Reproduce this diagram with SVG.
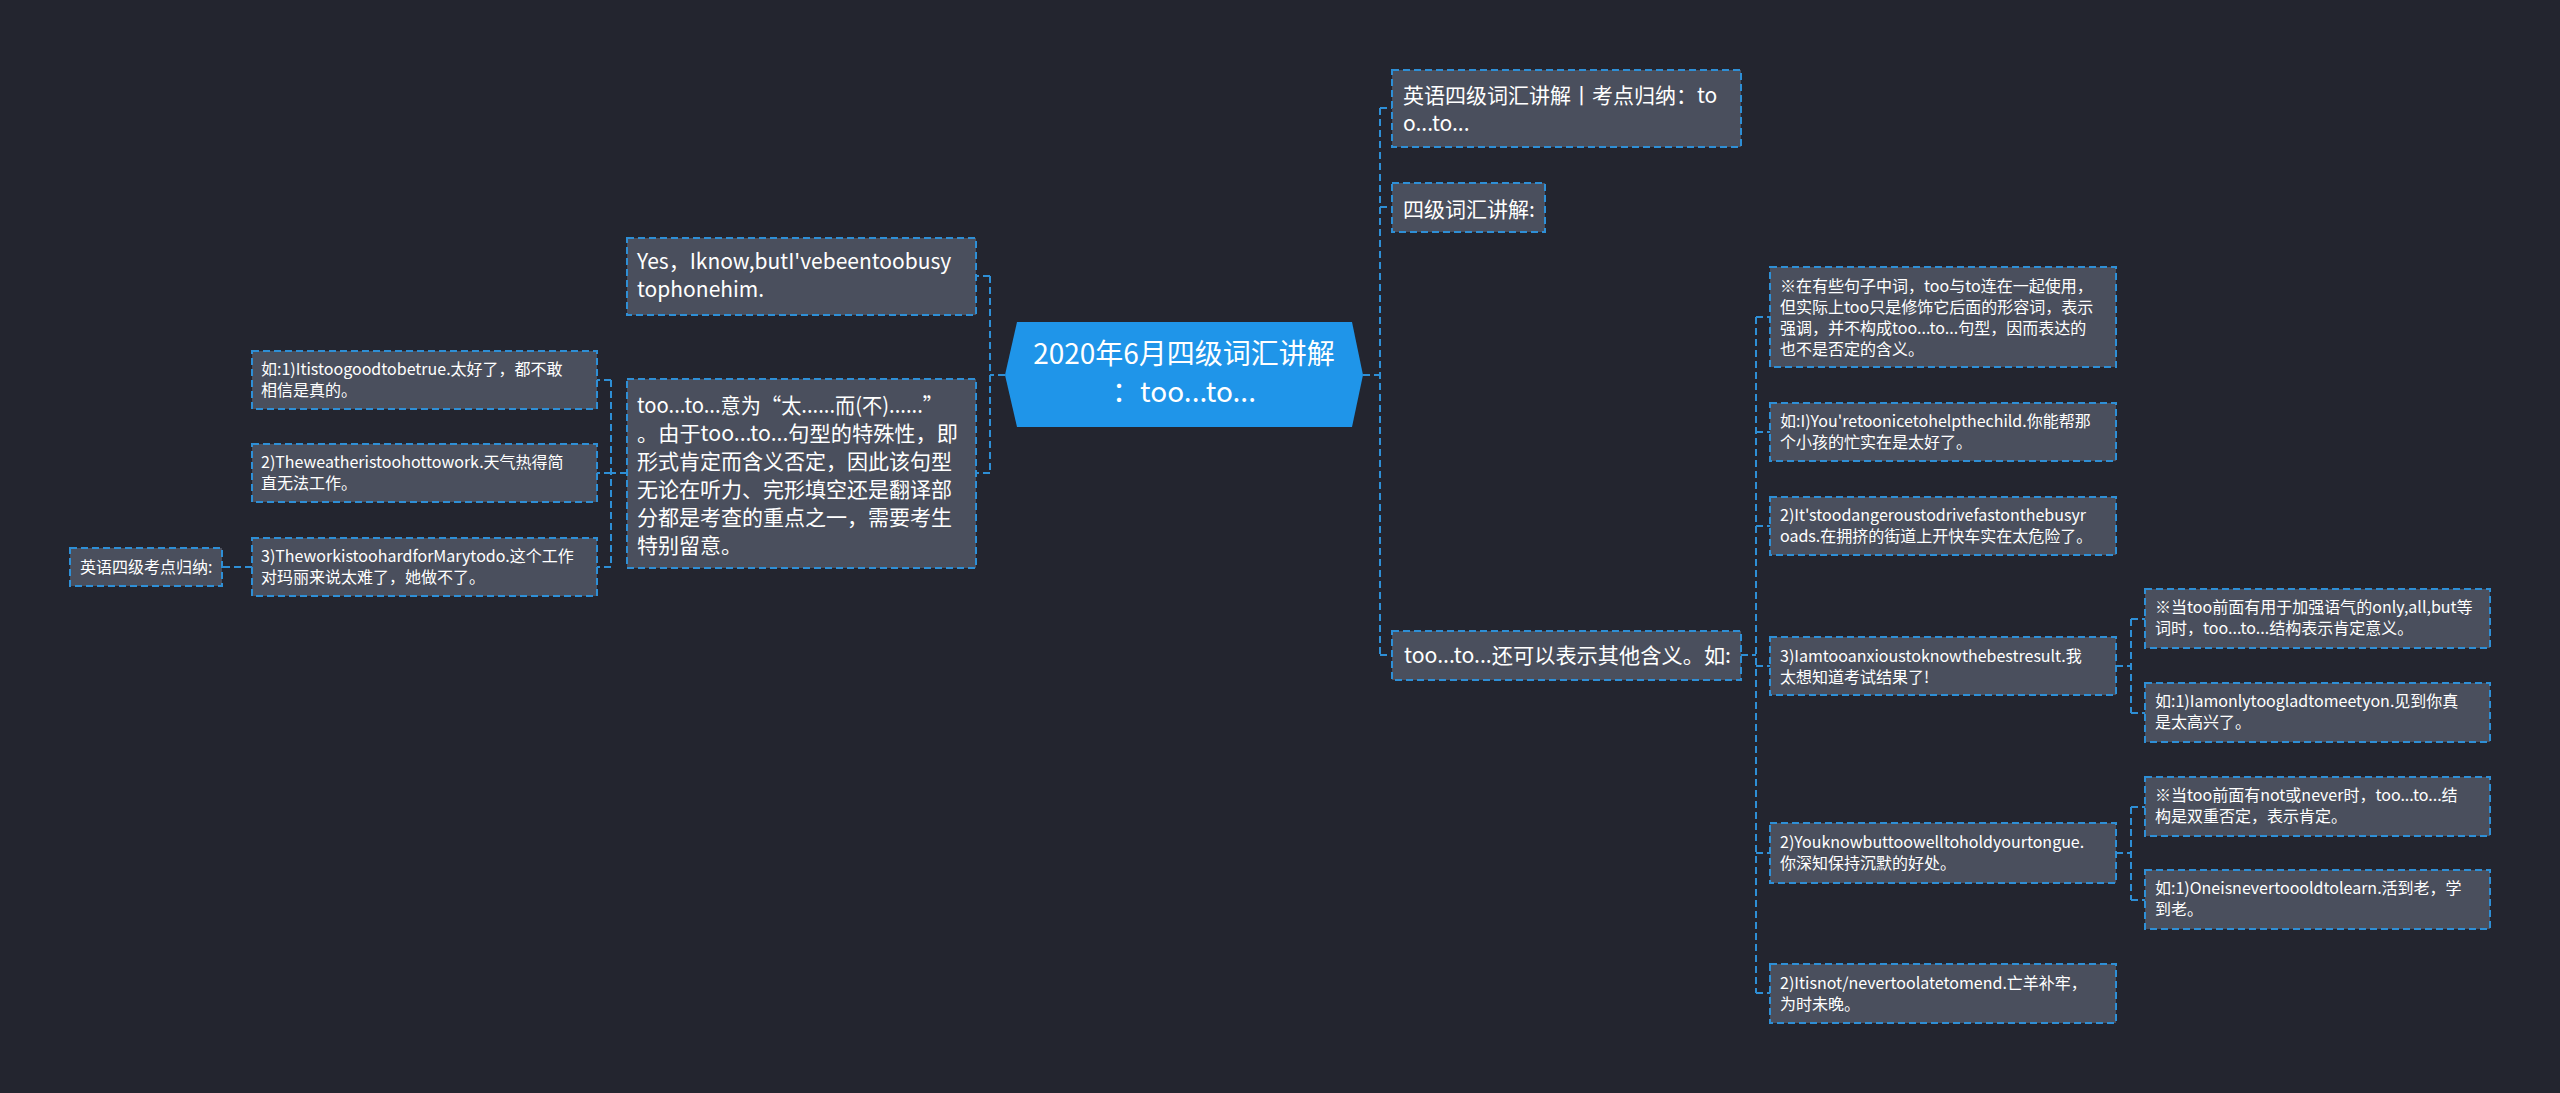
<svg xmlns="http://www.w3.org/2000/svg" width="2560" height="1093" viewBox="0 0 2560 1093">
<style>
.bg{fill:#23252f}
.n{fill:#4a4f5d;stroke:#2e8fd6;stroke-width:2;stroke-dasharray:7 4}
.c{fill:none;stroke:#2e8fd6;stroke-width:2;stroke-dasharray:7 4}
.t{font-family:"Noto Sans CJK SC","Noto Sans",sans-serif;fill:#ffffff}
.l{font-size:21px}
.s{font-size:16px}
.ctr{font-size:28px;text-anchor:middle}
</style>
<rect class="bg" x="0" y="0" width="2560" height="1093"/>
<g id="connectors">
<path class="c" d="M1005 375H990M990 276V473M990 276H976M990 473H976"/>
<path class="c" d="M627 473H611M611 380V567M611 380H597M611 473H597M611 567H597"/>
<path class="c" d="M252 567H222"/>
<path class="c" d="M1363 375H1380M1380 108V655M1380 108H1392M1380 207H1392M1380 655H1392"/>
<path class="c" d="M1741 655H1756M1756 317V993M1756 317H1770M1756 432H1770M1756 526H1770M1756 666H1770M1756 853H1770M1756 993H1770"/>
<path class="c" d="M2116 666H2131M2131 619V713M2131 619H2145M2131 713H2145"/>
<path class="c" d="M2116 853H2131M2131 807V900M2131 807H2145M2131 900H2145"/>
</g>
<g id="center">
<polygon points="1005,375 1017,322 1352,322 1363,375 1352,427 1017,427" fill="#1f95e9"/>
<text class="t ctr" x="1184" y="364">2020年6月四级词汇讲解</text>
<text class="t ctr" x="1184" y="402">：too...to...</text>
</g>
<g id="n-yes">
<rect class="n" x="627" y="238" width="349" height="77"/>
<text class="t l" x="637" y="269">Yes，Iknow,butI'vebeentoobusy</text>
<text class="t l" x="637" y="297">tophonehim.</text>
</g>
<g id="n-tootomean">
<rect class="n" x="627" y="379" width="349" height="189"/>
<text class="t l" x="637" y="413" textLength="306" lengthAdjust="spacingAndGlyphs">too...to...意为“太......而(不)......”</text>
<text class="t l" x="637" y="441" textLength="321" lengthAdjust="spacingAndGlyphs">。由于too...to...句型的特殊性，即</text>
<text class="t l" x="637" y="469">形式肯定而含义否定，因此该句型</text>
<text class="t l" x="637" y="497">无论在听力、完形填空还是翻译部</text>
<text class="t l" x="637" y="525">分都是考查的重点之一，需要考生</text>
<text class="t l" x="637" y="553">特别留意。</text>
</g>
<g id="n-l1">
<rect class="n" x="252" y="351" width="345" height="58"/>
<text class="t s" x="261" y="375">如:1)Itistoogoodtobetrue.太好了，都不敢</text>
<text class="t s" x="261" y="396">相信是真的。</text>
</g>
<g id="n-l2">
<rect class="n" x="252" y="444" width="345" height="58"/>
<text class="t s" x="261" y="468">2)Theweatheristoohottowork.天气热得简</text>
<text class="t s" x="261" y="489">直无法工作。</text>
</g>
<g id="n-l3">
<rect class="n" x="252" y="538" width="345" height="58"/>
<text class="t s" x="261" y="562">3)TheworkistoohardforMarytodo.这个工作</text>
<text class="t s" x="261" y="583">对玛丽来说太难了，她做不了。</text>
</g>
<g id="n-summary">
<rect class="n" x="70" y="548" width="152" height="38"/>
<text class="t s" x="80" y="573">英语四级考点归纳:</text>
</g>
<g id="n-r1">
<rect class="n" x="1392" y="70" width="349" height="77"/>
<text class="t l" x="1403" y="103">英语四级词汇讲解丨考点归纳：to</text>
<text class="t l" x="1403" y="131">o...to...</text>
</g>
<g id="n-r2">
<rect class="n" x="1392" y="183" width="153" height="49"/>
<text class="t l" x="1403" y="217">四级词汇讲解:</text>
</g>
<g id="n-r3">
<rect class="n" x="1392" y="631" width="349" height="49"/>
<text class="t l" x="1404" y="663" textLength="327" lengthAdjust="spacingAndGlyphs">too...to...还可以表示其他含义。如:</text>
</g>
<g id="n-a1">
<rect class="n" x="1770" y="267" width="346" height="100"/>
<text class="t s" x="1780" y="292">※在有些句子中词，too与to连在一起使用，</text>
<text class="t s" x="1780" y="313">但实际上too只是修饰它后面的形容词，表示</text>
<text class="t s" x="1780" y="334">强调，并不构成too...to...句型，因而表达的</text>
<text class="t s" x="1780" y="355">也不是否定的含义。</text>
</g>
<g id="n-a2">
<rect class="n" x="1770" y="403" width="346" height="58"/>
<text class="t s" x="1780" y="427">如:I)You'retoonicetohelpthechild.你能帮那</text>
<text class="t s" x="1780" y="448">个小孩的忙实在是太好了。</text>
</g>
<g id="n-a3">
<rect class="n" x="1770" y="497" width="346" height="58"/>
<text class="t s" x="1780" y="521">2)It'stoodangeroustodrivefastonthebusyr</text>
<text class="t s" x="1780" y="542">oads.在拥挤的街道上开快车实在太危险了。</text>
</g>
<g id="n-a4">
<rect class="n" x="1770" y="637" width="346" height="58"/>
<text class="t s" x="1780" y="662">3)Iamtooanxioustoknowthebestresult.我</text>
<text class="t s" x="1780" y="683">太想知道考试结果了!</text>
</g>
<g id="n-a5">
<rect class="n" x="1770" y="823" width="346" height="60"/>
<text class="t s" x="1780" y="848">2)Youknowbuttoowelltoholdyourtongue.</text>
<text class="t s" x="1780" y="869">你深知保持沉默的好处。</text>
</g>
<g id="n-a6">
<rect class="n" x="1770" y="964" width="346" height="59"/>
<text class="t s" x="1780" y="989">2)Itisnot/nevertoolatetomend.亡羊补牢，</text>
<text class="t s" x="1780" y="1010">为时未晚。</text>
</g>
<g id="n-b1">
<rect class="n" x="2145" y="589" width="345" height="59"/>
<text class="t s" x="2155" y="613">※当too前面有用于加强语气的only,all,but等</text>
<text class="t s" x="2155" y="634">词时，too...to...结构表示肯定意义。</text>
</g>
<g id="n-b2">
<rect class="n" x="2145" y="683" width="345" height="59"/>
<text class="t s" x="2155" y="707">如:1)Iamonlytoogladtomeetyon.见到你真</text>
<text class="t s" x="2155" y="728">是太高兴了。</text>
</g>
<g id="n-b3">
<rect class="n" x="2145" y="777" width="345" height="59"/>
<text class="t s" x="2155" y="801">※当too前面有not或never时，too...to...结</text>
<text class="t s" x="2155" y="822">构是双重否定，表示肯定。</text>
</g>
<g id="n-b4">
<rect class="n" x="2145" y="870" width="345" height="59"/>
<text class="t s" x="2155" y="894">如:1)Oneisnevertoooldtolearn.活到老，学</text>
<text class="t s" x="2155" y="915">到老。</text>
</g>
</svg>
